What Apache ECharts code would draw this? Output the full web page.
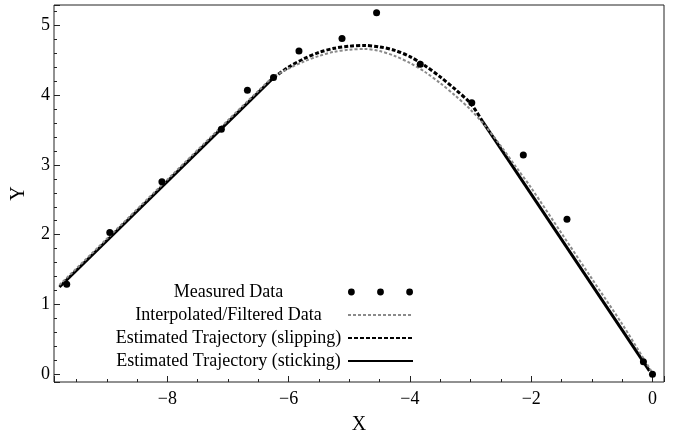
<!DOCTYPE html>
<html>
<head>
<meta charset="utf-8">
<script src="https://cdn.jsdelivr.net/npm/echarts@6/dist/echarts.min.js"></script>
<style>html,body{margin:0;padding:0;background:#fff;}#c{width:681px;height:434px;}</style>
</head>
<body>
<div id="c"></div>
<script>
// ---- data ----
var measuredX = [-9.66, -8.95, -8.09, -7.11, -6.68, -6.25, -5.83, -5.12, -4.55, -3.83, -2.98, -2.13, -1.41, -0.15, 0.0];
var measuredY = [1.29, 2.03, 2.76, 3.51, 4.07, 4.25, 4.63, 4.81, 5.18, 4.44, 3.89, 3.14, 2.22, 0.18, 0.0];

var interpX = [-9.78, -9.0, -8.0, -7.0, -6.5, -6.25, -6.0, -5.75, -5.5, -5.25, -5.0, -4.75, -4.5, -4.25, -4.0, -3.75, -3.5, -3.25, -3.0, -2.75, -2.5, -2.25, -2.0, -1.5, -1.0, -0.5, -0.15, 0.0];
var interpY = [1.28, 1.94, 2.79, 3.64, 4.06, 4.26, 4.38, 4.48, 4.56, 4.62, 4.65, 4.66, 4.63, 4.56, 4.46, 4.33, 4.17, 3.99, 3.79, 3.55, 3.27, 2.97, 2.67, 2.02, 1.37, 0.72, 0.23, 0.02];

var slipX = [-6.25, -6.0, -5.75, -5.5, -5.25, -5.0, -4.75, -4.5, -4.25, -4.0, -3.75, -3.5, -3.25, -3.0, -2.8];
var slipY = [4.25, 4.40, 4.52, 4.61, 4.67, 4.70, 4.71, 4.69, 4.64, 4.55, 4.42, 4.26, 4.08, 3.88, 3.62];

var stickLeftX = [-9.78, -6.25];
var stickLeftY = [1.25, 4.25];
var stickRightX = [-2.8, -0.05];
var stickRightY = [3.62, 0.05];

var seriesNames = ['Measured Data', 'Interpolated/Filtered Data', 'Estimated Trajectory (slipping)', 'Estimated Trajectory (sticking)'];
var xLabel = 'X', yLabel = 'Y';

function zip(xs, ys) { return xs.map(function (x, i) { return [x, ys[i]]; }); }
function fmt(v) { return v < 0 ? '\u2212' + Math.abs(v) : String(v); }

var FONT = 'Liberation Serif';
var X_MIN = -9.87, X_MAX = 0.19, Y_MIN = -0.11, Y_MAX = 5.29;
var hideSym = { color: 'rgba(0,0,0,0)', borderWidth: 0, opacity: 0 };

var chart = echarts.init(document.getElementById('c'), null, { renderer: 'canvas' });
var option = {
  animation: false,
  backgroundColor: '#fff',
  grid: { left: 54, right: 17, top: 5, bottom: 52, show: true, borderColor: '#222', borderWidth: 1, containLabel: false, outerBoundsMode: 'none' },
  legend: {
    orient: 'vertical', align: 'right', right: 262, top: 278,
    itemWidth: 65, itemHeight: 7, itemGap: 5,
    formatter: function (name) { return '{t|' + name + '}'; },
    textStyle: {
      fontFamily: FONT, fontSize: 18, color: '#000',
      rich: { t: { width: 229, align: 'center', fontFamily: FONT, fontSize: 18, color: '#000' } }
    },
    data: [
      { name: seriesNames[0], icon: 'path://M0,3.5a3.5,3.5 0 1,0 7,0a3.5,3.5 0 1,0 -7,0M30,3.5a3.5,3.5 0 1,0 7,0a3.5,3.5 0 1,0 -7,0M60,3.5a3.5,3.5 0 1,0 7,0a3.5,3.5 0 1,0 -7,0' },
      { name: seriesNames[1], itemStyle: hideSym },
      { name: seriesNames[2], itemStyle: hideSym },
      { name: seriesNames[3], itemStyle: hideSym }
    ]
  },
  xAxis: {
    type: 'value', min: X_MIN, max: X_MAX, splitNumber: 5,
    name: xLabel, nameLocation: 'middle', nameGap: 33,
    nameTextStyle: { fontFamily: FONT, fontSize: 20, color: '#000' },
    axisLine: { show: false, onZero: false },
    axisTick: { show: true, inside: true, length: 6, lineStyle: { color: '#222' } },
    minorTick: { show: true, splitNumber: 4, length: 3, lineStyle: { color: '#222' } },
    axisLabel: { fontFamily: FONT, fontSize: 18, color: '#000', margin: 8, showMinLabel: false, showMaxLabel: false, formatter: fmt },
    splitLine: { show: false }
  },
  yAxis: {
    type: 'value', min: Y_MIN, max: Y_MAX, splitNumber: 5,
    name: yLabel, nameLocation: 'middle', nameGap: 25, nameRotate: 90,
    nameTextStyle: { fontFamily: FONT, fontSize: 20, color: '#000' },
    axisLine: { show: false, onZero: false },
    axisTick: { show: true, inside: true, length: 6, lineStyle: { color: '#222' } },
    minorTick: { show: true, splitNumber: 5, length: 3, lineStyle: { color: '#222' } },
    axisLabel: { fontFamily: FONT, fontSize: 18, color: '#000', margin: 4, showMinLabel: false, showMaxLabel: false, formatter: fmt },
    splitLine: { show: false }
  },
  series: [
    {
      name: seriesNames[3], type: 'line', data: zip(stickLeftX, stickLeftY), symbol: 'none',
      lineStyle: { color: '#000', width: 3, type: 'solid' }, itemStyle: { color: '#000' }, z: 2
    },
    {
      name: seriesNames[3], type: 'line', data: zip(stickRightX, stickRightY), symbol: 'none',
      lineStyle: { color: '#000', width: 3, type: 'solid' }, itemStyle: { color: '#000' }, z: 2
    },
    {
      name: seriesNames[2], type: 'line', data: zip(slipX, slipY), symbol: 'none', smooth: 0.3,
      lineStyle: { color: '#000', width: 3, type: [4, 2] }, itemStyle: { color: '#000' }, z: 3
    },
    {
      name: seriesNames[1], type: 'line', data: zip(interpX, interpY), symbol: 'none', smooth: 0.3,
      lineStyle: { color: '#8a8a8a', width: 2, type: [3, 2] }, itemStyle: { color: '#8a8a8a' }, z: 4
    },
    {
      name: seriesNames[0], type: 'scatter', data: zip(measuredX, measuredY), symbol: 'circle', symbolSize: 7,
      itemStyle: { color: '#000', opacity: 1 }, z: 5
    }
  ]
};
chart.setOption(option);
</script>
</body>
</html>
